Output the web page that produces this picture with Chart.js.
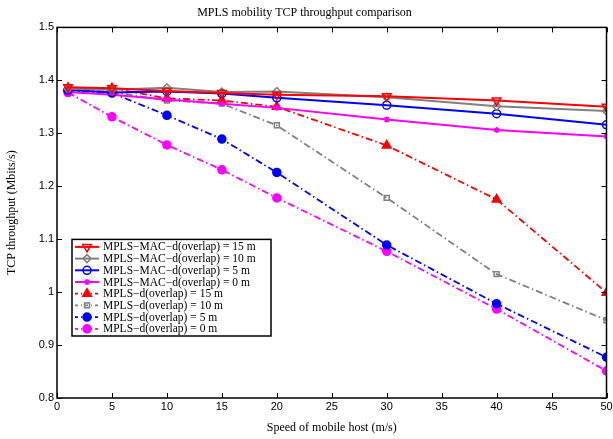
<!DOCTYPE html>
<html>
<head>
<meta charset="utf-8">
<script src="https://cdn.jsdelivr.net/npm/chart.js@4"></script>
<style>
  html, body { margin: 0; padding: 0; background: #fff; }
  #wrap { width: 613px; height: 439px; }
</style>
</head>
<body>
<div id="wrap"><canvas id="chart" width="613" height="439"></canvas></div>
<script>
// Speeds (m/s)
const speeds = [1, 5, 10, 15, 20, 30, 40, 50];

// Throughput (Mbits/s) per scheme
const macOverlap15 = [1.387, 1.385, 1.380, 1.376, 1.373, 1.370, 1.362, 1.350];
const macOverlap10 = [1.384, 1.382, 1.386, 1.378, 1.379, 1.368, 1.351, 1.342];
const macOverlap5 = [1.382, 1.377, 1.379, 1.375, 1.367, 1.353, 1.337, 1.316];
const macOverlap0 = [1.378, 1.373, 1.364, 1.356, 1.348, 1.326, 1.306, 1.294];
const mplsOverlap15 = [1.386, 1.385, 1.366, 1.362, 1.350, 1.277, 1.175, 0.999];
const mplsOverlap10 = [1.383, 1.378, 1.362, 1.356, 1.315, 1.178, 1.034, 0.947];
const mplsOverlap5 = [1.381, 1.376, 1.334, 1.289, 1.226, 1.089, 0.978, 0.877];
const mplsOverlap0 = [1.377, 1.331, 1.278, 1.231, 1.178, 1.077, 0.968, 0.851];

const seriesLabels = [
    'MPLS\u2212MAC\u2212d(overlap) = 15 m',
    'MPLS\u2212MAC\u2212d(overlap) = 10 m',
    'MPLS\u2212MAC\u2212d(overlap) = 5 m',
    'MPLS\u2212MAC\u2212d(overlap) = 0 m',
    'MPLS\u2212d(overlap) = 15 m',
    'MPLS\u2212d(overlap) = 10 m',
    'MPLS\u2212d(overlap) = 5 m',
    'MPLS\u2212d(overlap) = 0 m'
];

const yTicks = [0.8, 0.9, 1, 1.1, 1.2, 1.3, 1.4, 1.5];
const xTicks = [0, 5, 10, 15, 20, 25, 30, 35, 40, 45, 50];

const RED = '#ff0000', GRAY = '#808080', BLUE = '#0000ff', MAG = '#ff00ff';
const DASHDOT = [7, 3, 1.5, 3];
const SERIF = '"Liberation Serif", "Times New Roman", serif';
const SANS = 'Arial, "Liberation Sans", sans-serif';

function toPoints(values) {
    return speeds.map((s, i) => ({ x: s, y: values[i] }));
}

function makeSet(label, values, color, style, rotation, filled, radius, dashed) {
    return {
        label: label,
        data: toPoints(values),
        borderColor: color,
        backgroundColor: filled ? color : '#ffffff',
        pointBackgroundColor: filled ? color : 'rgba(255,255,255,0)',
        pointBorderColor: color,
        pointBorderWidth: 1.5,
        pointStyle: style,
        pointRotation: rotation,
        pointRadius: radius,
        borderWidth: dashed ? 1.8 : 2,
        borderDash: dashed ? DASHDOT : [],
        tension: 0,
        fill: false
    };
}

const datasets = [
    makeSet(seriesLabels[0], macOverlap15, RED, 'triangle', 180, false, 5, false),
    makeSet(seriesLabels[1], macOverlap10, GRAY, 'rectRot', 0, false, 4, false),
    makeSet(seriesLabels[2], macOverlap5, BLUE, 'circle', 0, false, 4, false),
    makeSet(seriesLabels[3], macOverlap0, MAG, 'star', 0, false, 3, false),
    makeSet(seriesLabels[4], mplsOverlap15, RED, 'triangle', 0, true, 5, true),
    makeSet(seriesLabels[5], mplsOverlap10, GRAY, 'rect', 0, false, 3.5, true),
    makeSet(seriesLabels[6], mplsOverlap5, BLUE, 'circle', 0, true, 4, true),
    makeSet(seriesLabels[7], mplsOverlap0, MAG, 'circle', 0, true, 4, true)
];

// Box around the plot with MATLAB style inward ticks on every side
const boxPlugin = {
    id: 'box',
    afterDraw(chart) {
        const ctx = chart.ctx;
        const a = chart.chartArea;
        const xs = chart.scales.x, ys = chart.scales.y;
        ctx.save();
        ctx.strokeStyle = '#000';
        ctx.lineWidth = 1;
        ctx.beginPath();
        xTicks.forEach(v => {
            const px = Math.round(xs.getPixelForValue(v)) + 0.5;
            ctx.moveTo(px, a.bottom); ctx.lineTo(px, a.bottom - 5);
            ctx.moveTo(px, a.top); ctx.lineTo(px, a.top + 5);
        });
        yTicks.forEach(v => {
            const py = Math.round(ys.getPixelForValue(v)) + 0.5;
            ctx.moveTo(a.left, py); ctx.lineTo(a.left + 5, py);
            ctx.moveTo(a.right, py); ctx.lineTo(a.right - 5, py);
        });
        ctx.stroke();
        ctx.lineWidth = 1.5;
        ctx.strokeRect(a.left, a.top, a.right - a.left, a.bottom - a.top);
        ctx.restore();
    }
};

// Legend box drawn in the lower left of the plot
const legendPlugin = {
    id: 'boxLegend',
    afterDraw(chart) {
        const ctx = chart.ctx;
        const a = chart.chartArea;
        const left = a.left + 15, top = a.top + 212;
        const w = 199, rowH = 11.7, h = rowH * datasets.length + 3;
        ctx.save();
        ctx.fillStyle = '#fff';
        ctx.fillRect(left, top, w, h);
        ctx.strokeStyle = '#000';
        ctx.lineWidth = 1.5;
        ctx.strokeRect(left, top, w, h);
        ctx.font = '11.5px ' + SERIF;
        ctx.textBaseline = 'middle';
        chart.data.datasets.forEach((ds, i) => {
            const y = top + 7.5 + i * rowH;
            ctx.strokeStyle = ds.borderColor;
            ctx.lineWidth = ds.borderWidth;
            ctx.setLineDash(ds.borderDash.length ? [3, 3, 1, 3] : []);
            ctx.beginPath();
            ctx.moveTo(left + 3, y);
            ctx.lineTo(left + 27, y);
            ctx.stroke();
            ctx.setLineDash([]);
            ctx.fillStyle = ds.pointBackgroundColor;
            ctx.strokeStyle = ds.pointBorderColor;
            ctx.lineWidth = ds.pointBorderWidth;
            Chart.helpers.drawPoint(ctx, {
                pointStyle: ds.pointStyle,
                rotation: ds.pointRotation,
                radius: ds.pointRadius,
                borderWidth: ds.pointBorderWidth
            }, left + 15, y);
            ctx.fillStyle = '#000';
            ctx.fillText(ds.label, left + 31, y + 0.5);
        });
        ctx.restore();
    }
};

function initChart() {
    const ctx = document.getElementById('chart').getContext('2d');
    Chart.defaults.font.family = SANS;
    Chart.defaults.color = '#000';
    new Chart(ctx, {
        type: 'line',
        data: { datasets: datasets },
        options: {
            responsive: false,
            animation: false,
            layout: { padding: { left: 0, right: 4, top: 0, bottom: 0 } },
            plugins: {
                legend: { display: false },
                tooltip: { enabled: false },
                title: {
                    display: true,
                    text: 'MPLS mobility TCP throughput comparison',
                    font: { family: SERIF, size: 12, weight: 'normal' },
                    color: '#000',
                    padding: { top: 6, bottom: 7 }
                }
            },
            scales: {
                x: {
                    type: 'linear',
                    min: 0,
                    max: 50,
                    afterBuildTicks: s => { s.ticks = xTicks.map(v => ({ value: v })); },
                    ticks: { font: { family: SANS, size: 11 }, padding: 2, maxRotation: 0, autoSkip: false },
                    grid: { display: false, drawTicks: false },
                    border: { display: false },
                    title: {
                        display: true,
                        text: 'Speed of mobile host (m/s)',
                        font: { family: SERIF, size: 12 },
                        padding: { top: 4, bottom: 4 }
                    },
                    afterFit: s => { s.height = 41; s.paddingRight = 0; s.paddingLeft = 0; }
                },
                y: {
                    type: 'linear',
                    min: 0.8,
                    max: 1.5,
                    afterBuildTicks: s => { s.ticks = yTicks.map(v => ({ value: v })); },
                    ticks: {
                        font: { family: SANS, size: 11 },
                        padding: 3,
                        autoSkip: false,
                        callback: v => String(+v.toFixed(1))
                    },
                    grid: { display: false, drawTicks: false },
                    border: { display: false },
                    title: {
                        display: true,
                        text: 'TCP throughput (Mbits/s)',
                        font: { family: SERIF, size: 12 },
                        padding: { top: 5, bottom: 4 }
                    },
                    afterFit: s => { s.width = 57; }
                }
            }
        },
        plugins: [boxPlugin, legendPlugin]
    });
}

initChart();
</script>
</body>
</html>
